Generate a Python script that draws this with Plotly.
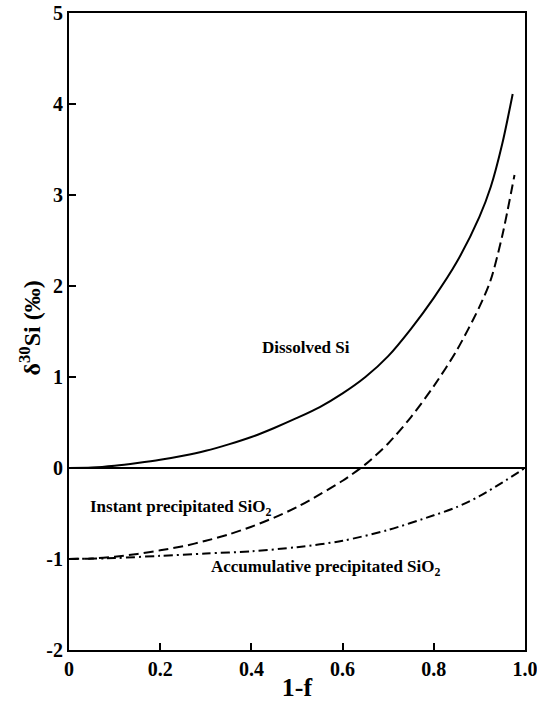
import plotly.graph_objects as go

# Data
x_dissolved = [0.0, 0.05, 0.1, 0.15, 0.2, 0.25, 0.3, 0.35, 0.4, 0.45, 0.5, 0.55, 0.6, 0.65, 0.7, 0.75, 0.8, 0.85, 0.9, 0.925, 0.95, 0.973]
y_dissolved = [0.0, 0.005, 0.025, 0.055, 0.09, 0.135, 0.19, 0.26, 0.34, 0.44, 0.55, 0.67, 0.82, 1.00, 1.23, 1.53, 1.87, 2.26, 2.76, 3.09, 3.56, 4.11]

x_instant = [0.0, 0.05, 0.1, 0.15, 0.2, 0.25, 0.3, 0.35, 0.4, 0.45, 0.5, 0.55, 0.6, 0.65, 0.7, 0.75, 0.8, 0.85, 0.9, 0.925, 0.95, 0.977]
y_instant = [-1.0, -0.995, -0.975, -0.945, -0.905, -0.86, -0.80, -0.73, -0.645, -0.545, -0.43, -0.29, -0.14, 0.04, 0.27, 0.56, 0.90, 1.29, 1.77, 2.07, 2.55, 3.22]

x_accum = [0.0, 0.1, 0.2, 0.3, 0.4, 0.5, 0.6, 0.7, 0.8, 0.85, 0.9, 0.95, 1.0]
y_accum = [-1.0, -0.99, -0.965, -0.94, -0.915, -0.87, -0.80, -0.68, -0.52, -0.43, -0.31, -0.16, 0.0]

x_ticks = [0, 0.2, 0.4, 0.6, 0.8, 1.0]
x_tick_labels = ["0", "0.2", "0.4", "0.6", "0.8", "1.0"]
y_ticks = [-2, -1, 0, 1, 2, 3, 4, 5]

labels = ["Dissolved Si", "Instant precipitated SiO<sub>2</sub>", "Accumulative precipitated SiO<sub>2</sub>"]
label_x = [0.52, 0.244, 0.564]
label_y = [1.32, -0.44, -1.10]

FONT = "Liberation Serif, Times New Roman, serif"

fig = go.Figure()
fig.add_trace(go.Scatter(x=x_dissolved, y=y_dissolved, mode="lines",
                         line=dict(color="black", width=2, shape="spline", smoothing=0.8), showlegend=False))
fig.add_trace(go.Scatter(x=x_instant, y=y_instant, mode="lines",
                         line=dict(color="black", width=2, shape="spline", smoothing=0.8, dash="10px,5px"), showlegend=False))
fig.add_trace(go.Scatter(x=x_accum, y=y_accum, mode="lines",
                         line=dict(color="black", width=2, shape="spline", smoothing=0.8, dash="9px,4px,2px,4px"), showlegend=False))

for t, lx, ly in zip(labels, label_x, label_y):
    fig.add_annotation(x=lx, y=ly, text="<b>" + t + "</b>", showarrow=False,
                       font=dict(family=FONT, size=17, color="black"))

fig.add_annotation(xref="paper", yref="paper", x=-0.085, y=0.505,
                   xanchor="center", yanchor="middle",
                   text="<b>δ<sup>30</sup>Si (‰)</b>", textangle=-90, showarrow=False,
                   font=dict(family=FONT, size=24, color="black"))

fig.update_layout(
    width=537, height=702,
    margin=dict(l=69, r=12, t=13, b=52, autoexpand=False),
    paper_bgcolor="white", plot_bgcolor="white",
    font=dict(family=FONT, color="black"),
    xaxis=dict(range=[0, 1], tickvals=x_ticks, ticktext=["<b>%s</b>" % s for s in x_tick_labels],
               ticks="inside", ticklen=7, tickwidth=2, tickcolor="black",
               showline=True, linecolor="black", linewidth=2, mirror=True,
               showgrid=False, zeroline=False, automargin=False, ticklabeloverflow="allow",
               tickfont=dict(family=FONT, size=20, color="black"),
               title=dict(text="<b>1-f</b>", font=dict(family=FONT, size=26, color="black"), standoff=5)),
    yaxis=dict(range=[-2, 5], tickvals=y_ticks, ticktext=["<b>%d</b>" % v for v in y_ticks],
               ticks="inside", ticklen=7, tickwidth=2, tickcolor="black",
               showline=True, linecolor="black", linewidth=2, mirror=True,
               showgrid=False, zeroline=True, zerolinecolor="black", zerolinewidth=2,
               automargin=False, ticklabeloverflow="allow",
               tickfont=dict(family=FONT, size=20, color="black")),
)

fig.write_html("out.html")
